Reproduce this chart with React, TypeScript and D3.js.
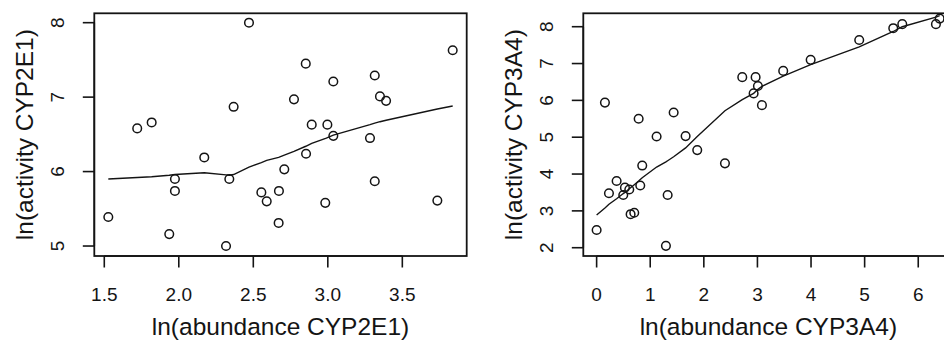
import React from "react";
import * as d3 from "d3";

// CYP2E1: ln(abundance) vs ln(activity)
const cyp2e1Abundance = [1.527, 1.721, 1.818, 1.936, 1.974, 1.974, 2.171, 2.317, 2.339, 2.368, 2.471, 2.554, 2.590, 2.670, 2.672, 2.708, 2.773, 2.852, 2.854, 2.892, 2.983, 2.997, 3.037, 3.037, 3.283, 3.315, 3.315, 3.350, 3.391, 3.735, 3.838];
const cyp2e1Activity = [5.39, 6.58, 6.66, 5.16, 5.90, 5.74, 6.19, 5.00, 5.90, 6.87, 8.00, 5.72, 5.60, 5.31, 5.74, 6.03, 6.97, 7.45, 6.24, 6.63, 5.58, 6.63, 7.21, 6.48, 6.45, 7.29, 5.87, 7.01, 6.95, 5.61, 7.63];
const cyp2e1SmoothX = [1.527, 1.721, 1.818, 1.936, 1.974, 2.171, 2.317, 2.339, 2.368, 2.471, 2.554, 2.590, 2.670, 2.708, 2.773, 2.852, 2.892, 2.990, 3.037, 3.283, 3.315, 3.350, 3.391, 3.735, 3.838];
const cyp2e1SmoothY = [5.90, 5.92, 5.93, 5.95, 5.96, 5.985, 5.955, 5.95, 5.96, 6.06, 6.12, 6.15, 6.19, 6.22, 6.27, 6.34, 6.38, 6.45, 6.49, 6.63, 6.65, 6.67, 6.69, 6.84, 6.88];
const cyp2e1XTicks = [1.5, 2.0, 2.5, 3.0, 3.5];
const cyp2e1YTicks = [5, 6, 7, 8];

// CYP3A4: ln(abundance) vs ln(activity)
const cyp3a4Abundance = [0.0, 0.155, 0.23, 0.373, 0.497, 0.528, 0.609, 0.634, 0.702, 0.784, 0.814, 0.851, 1.119, 1.293, 1.325, 1.437, 1.660, 1.877, 2.394, 2.717, 2.929, 2.966, 3.009, 3.084, 3.481, 3.993, 4.899, 5.534, 5.702, 6.33, 6.40];
const cyp3a4Activity = [2.48, 5.94, 3.48, 3.81, 3.43, 3.63, 3.58, 2.91, 2.95, 5.50, 3.69, 4.23, 5.02, 2.05, 3.43, 5.67, 5.03, 4.65, 4.29, 6.63, 6.19, 6.63, 6.39, 5.87, 6.80, 7.10, 7.64, 7.96, 8.07, 8.07, 8.22];
const cyp3a4SmoothX = [0.0, 0.155, 0.23, 0.373, 0.497, 0.528, 0.609, 0.634, 0.702, 0.784, 0.814, 0.851, 1.119, 1.293, 1.325, 1.437, 1.660, 1.877, 2.394, 2.717, 2.929, 2.966, 3.009, 3.084, 3.481, 3.993, 4.899, 5.534, 5.702, 6.33, 6.40];
const cyp3a4SmoothY = [2.89, 3.08, 3.18, 3.33, 3.47, 3.50, 3.60, 3.63, 3.71, 3.81, 3.85, 3.90, 4.19, 4.33, 4.36, 4.47, 4.71, 5.02, 5.72, 6.02, 6.19, 6.24, 6.30, 6.38, 6.66, 6.97, 7.45, 7.87, 8.00, 8.26, 8.30];
const cyp3a4XTicks = [0, 1, 2, 3, 4, 5, 6];
const cyp3a4YTicks = [2, 3, 4, 5, 6, 7, 8];

const FONT = "'Liberation Sans', Arial, sans-serif";
const INK = "#141414";

type PanelProps = {
  id: string;
  xs: number[];
  ys: number[];
  sx: number[];
  sy: number[];
  xTicks: number[];
  yTicks: number[];
  xFormat: (v: number) => string;
  xDomain: [number, number];
  yDomain: [number, number];
  left: number;
  right: number;
  xTitle: string;
  yTitle: string;
};

const TOP = 13.3;
const BOTTOM = 256;

function Panel(p: PanelProps) {
  const x = d3.scaleLinear().domain(p.xDomain).range([p.left, p.right]);
  const y = d3.scaleLinear().domain(p.yDomain).range([BOTTOM, TOP]);
  const line = d3
    .line<number>()
    .x((_, i) => x(p.sx[i]))
    .y((d) => y(d));
  const tickLen = 11.5;
  const xMid = (p.left + p.right) / 2;
  return (
    <g>
      <defs>
        <clipPath id={`clip-${p.id}`}>
          <rect x={p.left} y={TOP} width={p.right - p.left} height={BOTTOM - TOP} />
        </clipPath>
      </defs>
      <rect
        x={p.left}
        y={TOP}
        width={p.right - p.left}
        height={BOTTOM - TOP}
        fill="none"
        stroke={INK}
        strokeWidth={1.8}
      />
      {/* x axis */}
      <line
        x1={x(p.xTicks[0])}
        x2={x(p.xTicks[p.xTicks.length - 1])}
        y1={BOTTOM}
        y2={BOTTOM}
        stroke={INK}
        strokeWidth={1.6}
      />
      {p.xTicks.map((t) => (
        <g key={`xt${t}`}>
          <line x1={x(t)} x2={x(t)} y1={BOTTOM} y2={BOTTOM + tickLen} stroke={INK} strokeWidth={1.6} />
          <text
            x={x(t)}
            y={301}
            textAnchor="middle"
            fontFamily={FONT}
            fontSize={19}
            fill={INK}
          >
            {p.xFormat(t)}
          </text>
        </g>
      ))}
      {/* y axis */}
      <line
        x1={p.left}
        x2={p.left}
        y1={y(p.yTicks[0])}
        y2={y(p.yTicks[p.yTicks.length - 1])}
        stroke={INK}
        strokeWidth={1.6}
      />
      {p.yTicks.map((t) => (
        <g key={`yt${t}`}>
          <line x1={p.left - tickLen} x2={p.left} y1={y(t)} y2={y(t)} stroke={INK} strokeWidth={1.6} />
          <text
            transform={`translate(${p.left - 30.5},${y(t)}) rotate(-90)`}
            textAnchor="middle"
            fontFamily={FONT}
            fontSize={19}
            fill={INK}
          >
            {t}
          </text>
        </g>
      ))}
      <text
        x={xMid}
        y={335}
        textAnchor="middle"
        fontFamily={FONT}
        fontSize={24.5}
        fill={INK}
      >
        {p.xTitle}
      </text>
      <text
        transform={`translate(${p.left - 61.5},${(TOP + BOTTOM) / 2}) rotate(-90)`}
        textAnchor="middle"
        fontFamily={FONT}
        fontSize={24.5}
        fill={INK}
      >
        {p.yTitle}
      </text>
      <g clipPath={`url(#clip-${p.id})`}>
        <path d={line(p.sy) ?? ""} fill="none" stroke={INK} strokeWidth={1.4} />
      </g>
      {p.xs.map((v, i) => (
        <circle
          key={`pt${i}`}
          cx={x(v)}
          cy={y(p.ys[i])}
          r={4.3}
          fill="none"
          stroke={INK}
          strokeWidth={1.5}
        />
      ))}
    </g>
  );
}

export default function App() {
  return (
    <svg
      width={944}
      height={344}
      style={{ position: "absolute", left: 0, top: 0, background: "#fff" }}
    >
      <rect x={0} y={0} width={944} height={344} fill="#fff" />
      <Panel
        id="cyp2e1"
        xs={cyp2e1Abundance}
        ys={cyp2e1Activity}
        sx={cyp2e1SmoothX}
        sy={cyp2e1SmoothY}
        xTicks={cyp2e1XTicks}
        yTicks={cyp2e1YTicks}
        xFormat={(v) => v.toFixed(1)}
        xDomain={[1.433, 3.932]}
        yDomain={[4.866, 8.126]}
        left={94.3}
        right={466.7}
        xTitle="ln(abundance CYP2E1)"
        yTitle="ln(activity CYP2E1)"
      />
      <Panel
        id="cyp3a4"
        xs={cyp3a4Abundance}
        ys={cyp3a4Activity}
        sx={cyp3a4SmoothX}
        sy={cyp3a4SmoothY}
        xTicks={cyp3a4XTicks}
        yTicks={cyp3a4YTicks}
        xFormat={(v) => String(v)}
        xDomain={[-0.2486, 6.656]}
        yDomain={[1.775, 8.364]}
        left={583.3}
        right={953.4}
        xTitle="ln(abundance CYP3A4)"
        yTitle="ln(activity CYP3A4)"
      />
    </svg>
  );
}
